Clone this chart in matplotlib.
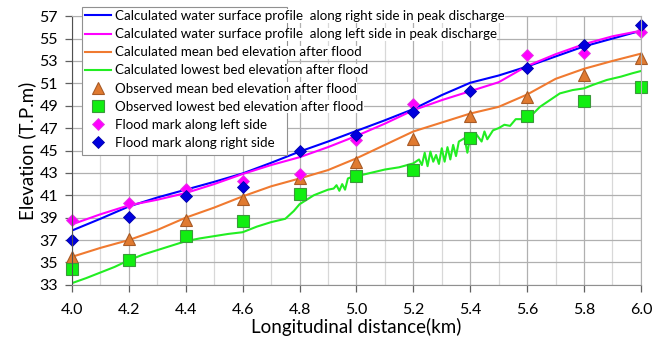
import numpy as np
import matplotlib
matplotlib.use('Agg')
import matplotlib.pyplot as plt
from matplotlib.ticker import MultipleLocator
from matplotlib.patches import Rectangle

plt.rcParams['font.family'] = ['Lato', 'DejaVu Sans']

# calculated profiles (km, elevation T.P.m)
km_calc = [4.0, 4.1, 4.2, 4.3, 4.4, 4.5, 4.6, 4.7, 4.8, 4.9, 5.0,
           5.1, 5.2, 5.3, 5.4, 5.5, 5.6, 5.7, 5.8, 5.9, 6.0]
ws_right = [37.85, 38.9, 40.0, 40.8, 41.5, 42.2, 42.95, 43.9, 44.9, 45.8, 46.75,
            47.7, 48.7, 49.95, 51.05, 51.7, 52.5, 53.4, 54.3, 55.0, 55.7]
ws_left = [38.4, 39.3, 40.1, 40.6, 41.2, 42.0, 42.9, 43.7, 44.4, 45.3, 46.3,
           47.4, 48.6, 49.5, 50.3, 51.1, 52.55, 53.6, 54.5, 55.2, 55.7]
bed_mean = [35.5, 36.3, 37.0, 37.9, 39.0, 39.9, 40.9, 41.8, 42.5, 43.25, 44.3,
            45.5, 46.7, 47.5, 48.3, 48.9, 50.0, 51.4, 52.3, 53.0, 53.65]

km_low = [4.00, 4.05, 4.10, 4.15, 4.20, 4.25, 4.30, 4.35, 4.40, 4.45, 4.50,
          4.55, 4.60, 4.65, 4.70, 4.75, 4.78, 4.80, 4.85, 4.90, 4.92, 4.93,
          4.94, 4.95, 4.96, 4.97, 4.98, 5.00, 5.05, 5.10, 5.15, 5.20, 5.22,
          5.23, 5.24, 5.25, 5.26, 5.27, 5.28, 5.29, 5.30, 5.31, 5.32, 5.33,
          5.34, 5.35, 5.36, 5.38, 5.39, 5.40, 5.41, 5.42, 5.44, 5.45, 5.46,
          5.48, 5.50, 5.52, 5.54, 5.56, 5.58, 5.60, 5.61, 5.645, 5.68, 5.715,
          5.76, 5.80, 5.83, 5.88, 5.93, 5.97, 6.00]
bed_low = [33.15, 33.6, 34.1, 34.6, 35.2, 35.7, 36.1, 36.5, 36.9, 37.15, 37.35,
           37.55, 37.7, 38.2, 38.6, 38.9, 39.6, 40.2, 41.0, 41.5, 41.6, 41.9,
           41.4, 42.0, 41.5, 42.5, 42.6, 42.7, 43.0, 43.3, 43.5, 43.85, 44.2,
           43.7, 44.8, 43.6, 44.9, 44.0, 44.6, 43.8, 45.2, 44.0, 45.3, 44.2,
           45.5, 44.5, 45.8, 46.1, 44.8, 46.3, 45.6, 46.5, 45.8, 46.7, 46.0,
           46.8, 47.0, 47.3, 47.2, 47.8, 47.8, 47.9, 48.0, 48.9, 49.5, 50.1,
           50.4, 50.55, 50.85, 51.3, 51.6, 51.9, 52.1]

# observations
km_obs = [4.0, 4.2, 4.4, 4.6, 4.8, 5.0, 5.2, 5.4, 5.6, 5.8, 6.0]
obs_mean = [35.5, 37.1, 38.8, 40.7, 42.5, 44.0, 46.0, 48.1, 49.75, 51.7, 53.3]
obs_low = [34.4, 35.2, 37.4, 38.7, 41.1, 42.75, 43.3, 46.1, 48.1, 49.45, 50.7]
mark_left = [38.8, 40.3, 41.6, 42.3, 42.9, 45.9, 49.15, np.nan, 53.5, 53.75, 55.6]
mark_right = [37.0, 39.1, 40.9, 41.7, 45.0, 46.4, 48.4, 50.3, 52.4, 54.4, 56.2]

y_ticks = list(range(33, 58, 2))
x_ticks = [4.0, 4.2, 4.4, 4.6, 4.8, 5.0, 5.2, 5.4, 5.6, 5.8, 6.0]

fig = plt.figure(figsize=(6.54, 3.44), dpi=100)
ax = fig.add_axes([0.110, 0.172, 0.870, 0.781])

ax.plot(km_calc, ws_right, color='#0000ff', lw=1.5,
        label='Calculated water surface profile  along right side in peak discharge')
ax.plot(km_calc, ws_left, color='#ff00ff', lw=1.5,
        label='Calculated water surface profile  along left side in peak discharge')
ax.plot(km_calc, bed_mean, color='#f07a30', lw=1.5,
        label='Calculated mean bed elevation after flood')
ax.plot(km_low, bed_low, color='#22ee22', lw=1.5,
        label='Calculated lowest bed elevation after flood')
ax.plot(km_obs, obs_mean, ls='none', marker='^', ms=9, mfc='#e07a30',
        mec='#a85a25', mew=0.8, clip_on=False,
        label='Observed mean bed elevation after flood')
ax.plot(km_obs, obs_low, ls='none', marker='s', ms=9, mfc='#11ee11',
        mec='#3a9a3a', mew=0.8, clip_on=False,
        label='Observed lowest bed elevation after flood')
ax.plot(km_obs, mark_left, ls='none', marker='D', ms=6.5, mfc='#ff00ff',
        mec='#e040e0', mew=0.6, clip_on=False,
        label='Flood mark along left side')
ax.plot(km_obs, mark_right, ls='none', marker='D', ms=6.5, mfc='#0000dd',
        mec='#0000aa', mew=0.6, clip_on=False,
        label='Flood mark along right side')

ax.set_xlim(4.0, 6.0)
ax.set_ylim(33, 57)
ax.set_xticks(x_ticks)
ax.set_xticklabels(['%.1f' % v for v in x_ticks])
ax.xaxis.set_minor_locator(MultipleLocator(0.1))
ax.set_yticks(y_ticks)
ax.grid(which='major', color='#b0b0b0', lw=0.9)
ax.grid(which='minor', axis='x', color='#d8d8d8', lw=0.9)
ax.set_axisbelow(True)
ax.tick_params(which='major', direction='out', length=5, width=0.9,
               color='#606060', labelsize=11.5, pad=5)
ax.tick_params(axis='x', pad=8)
ax.tick_params(which='minor', length=0)
for side in ['top', 'right']:
    ax.spines[side].set_color('#b0b0b0')
ax.spines['left'].set_color('#505050')
ax.spines['bottom'].set_color('#909090')

ax.set_xlabel('Longitudinal distance(km)', fontsize=13.5, labelpad=1)
ax.set_ylabel('Elevation (T.P.m)', fontsize=13.5, labelpad=2)

# Excel-style legend: box narrower than the text, text rows on white
ax.add_patch(Rectangle((0.1254, 0.5494), 0.3134, 0.4303, transform=fig.transFigure,
                       facecolor='white', edgecolor='#909090', lw=0.8,
                       clip_on=False, zorder=4.5))
leg = ax.legend(loc='upper left', bbox_to_anchor=(0.0176, 1.035),
                borderaxespad=0, fontsize=9.6, handlelength=1.9,
                handletextpad=0.3, labelspacing=0.46, borderpad=0.25,
                frameon=False)
for t in leg.get_texts():
    t.set_bbox(dict(facecolor='white', edgecolor='none', pad=0.5))

plt.savefig('out.png', dpi=100)
